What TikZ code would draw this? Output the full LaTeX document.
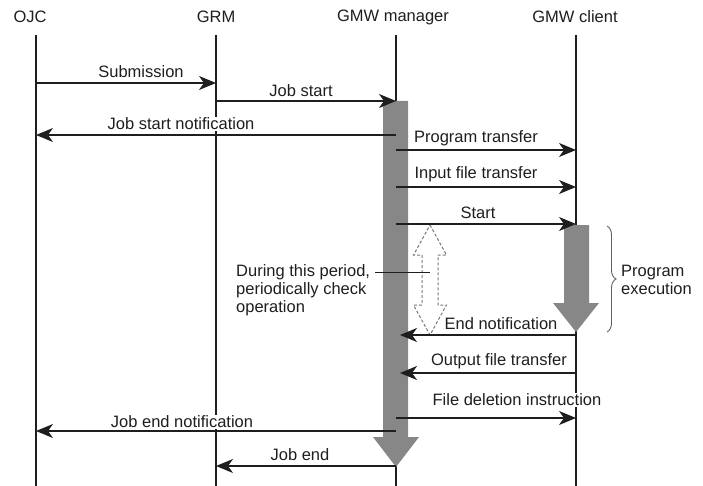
\documentclass[tikz,border=0pt]{standalone}
\usepackage{fontspec}
\setmainfont{Liberation Sans}
\usetikzlibrary{arrows.meta,decorations.pathreplacing}
\definecolor{ink}{RGB}{30,30,30}
\definecolor{barfill}{RGB}{135,135,135}
\definecolor{dashgray}{RGB}{120,120,120}
\tikzset{
  lifeline/.style={draw=ink,line width=1.1pt},
  msg/.style={draw=ink,line width=1.2pt,-{Stealth[length=17pt,width=14pt,inset=5pt]}},
  lbl/.style={font=\fontsize{16.5}{18}\selectfont,text=ink,inner sep=1pt},
  lblw/.style={lbl,fill=white},
  head/.style={font=\fontsize{16.5}{18}\selectfont,text=ink,inner sep=0pt},
  actbar/.style={fill=barfill,draw=none},
  checkarrow/.style={draw=dashgray,fill=white,line width=1pt,dash pattern=on 3pt off 2pt}
}
\begin{document}
\begin{tikzpicture}[x=1pt,y=-1pt]
\useasboundingbox (0,0) rectangle (703,486);

% participants
\node[head] (hojc) at (30,17) {OJC};
\node[head] (hgrm) at (216,17) {GRM};
\node[head] (hmgr) at (393,17) {GMW manager};
\node[head] (hcli) at (575,17) {GMW client};

% lifeline ends
\coordinate (ojc) at (36,35);  \coordinate (ojcb) at (36,486);
\coordinate (grm) at (216,35); \coordinate (grmb) at (216,486);
\coordinate (mgr) at (396,35); \coordinate (mgrb) at (396,486);
\coordinate (cli) at (576,35); \coordinate (clib) at (576,486);

\draw[lifeline] (ojc) -- (ojcb);
\draw[lifeline] (grm) -- (grmb);
\draw[lifeline] (mgr) -- (mgrb);
\draw[lifeline] (cli) -- (clib);

% activation of the manager (whole job)
\path[actbar] (383,101) -- (408,101) -- (408,437) -- (419,437) -- (396,467)
  -- (373,437) -- (383,437) -- cycle;

% activation of the client (program execution)
\path[actbar] (564,225) -- (589,225) -- (589,303) -- (599,303) -- (576,332)
  -- (553,303) -- (564,303) -- cycle;

% periodic check (dashed double arrow)
\draw[checkarrow] (430,225) -- (446.5,255) -- (438,255) -- (438,305) -- (446.5,305)
  -- (430,335) -- (413.5,305) -- (422,305) -- (422,255) -- (413.5,255) -- cycle;
\coordinate (chk) at (430,272);

% messages
\draw[msg] (ojc |- 0,83) -- (grm |- 0,83);
\node[lbl] (l1) at (141,72) {Submission};

\draw[msg] (grm |- 0,101) -- (mgr |- 0,101);
\node[lbl] (l2) at (301,91) {Job start};

\draw[msg] (mgr |- 0,135) -- (ojc |- 0,135);
\node[lblw] (l3) at (181,124) {Job start notification};

\draw[msg] (mgr |- 0,150) -- (cli |- 0,150);
\node[lbl] (l4) at (476,138) {Program transfer};

\draw[msg] (mgr |- 0,187) -- (cli |- 0,187);
\node[lbl] (l5) at (476,174) {Input file transfer};

\draw[msg] (mgr |- 0,224) -- (cli |- 0,224);
\node[lbl] (l6) at (478,213) {Start};

\draw[msg] (cli |- 0,335) -- ([xshift=4pt]mgr |- 0,335);
\node[lbl] (l7) at (501,324) {End notification};

\draw[msg] (cli |- 0,373) -- ([xshift=4pt]mgr |- 0,373);
\node[lbl] (l8) at (499,361) {Output file transfer};

\draw[msg] (mgr |- 0,418) -- (cli |- 0,418);
\node[lblw] (l9) at (517,400) {File deletion instruction};

\draw[msg] (mgr |- 0,431) -- (ojc |- 0,431);
\node[lblw] (l10) at (182,422) {Job end notification};

\draw[msg] (mgr |- 0,466) -- (grm |- 0,466);
\node[lbl] (l11) at (300,455) {Job end};

% note on the periodic check
\node[lbl,anchor=west,align=left] (note) at (235,290)
  {During this period,\\periodically check\\operation};
\coordinate (notetip) at (375,272);
\draw[draw=ink,line width=1pt] (notetip) -- (chk);

% program execution brace
\coordinate (bt) at (607,226);
\coordinate (bb) at (607,332);
\draw[draw=ink!70,line width=0.9pt,decorate,
  decoration={brace,amplitude=9pt}] (bt) -- (bb);
\node[lbl,anchor=west,align=left] (exec) at (620,280) {Program\\execution};
\end{tikzpicture}
\end{document}
